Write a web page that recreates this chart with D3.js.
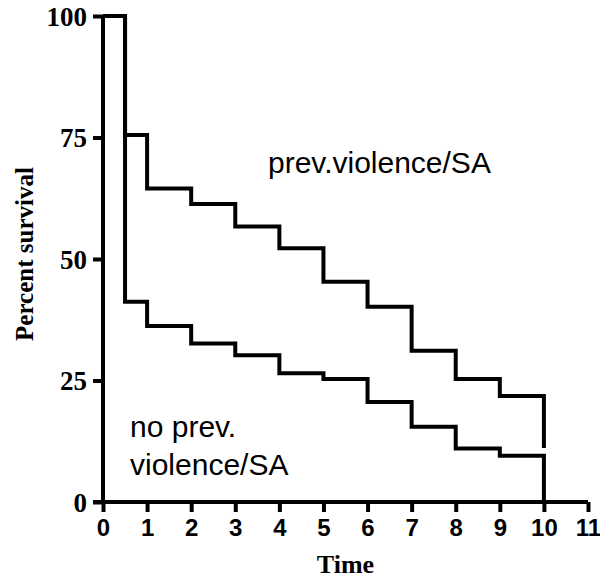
<!DOCTYPE html>
<html>
<head>
<meta charset="utf-8">
<script src="https://cdn.jsdelivr.net/npm/d3@7"></script>
<style>
  html, body { margin: 0; padding: 0; background: #fff; }
  svg { display: block; }
</style>
</head>
<body>
<script>
// Data
const times = [0, 0.5, 1, 2, 3, 4, 5, 6, 7, 8, 9, 10];
const prevViolence = [100, 75.5, 64.5, 61.3, 56.7, 52.2, 45.3, 40.2, 31.1, 25.3, 21.8, 11.1];
const noPrevViolence = [100, 41.2, 36.2, 32.6, 30.2, 26.5, 25.3, 20.6, 15.5, 11.0, 9.5, 0];
const xTicks = [0, 1, 2, 3, 4, 5, 6, 7, 8, 9, 10, 11];
const yTicks = [0, 25, 50, 75, 100];

const W = 600, H = 582;
const svg = d3.select("body").append("svg").attr("width", W).attr("height", H);

const x = d3.scaleLinear().domain([0, 11]).range([103, 588]);
const y = d3.scaleLinear().domain([0, 100]).range([502, 16]);

const line = d3.line().x(d => x(d[0])).y(d => y(d[1])).curve(d3.curveStepAfter);

function series(vals) { return times.map((t, i) => [t, vals[i]]); }

// Curves
[prevViolence, noPrevViolence].forEach(vals => {
  svg.append("path")
    .attr("d", line(series(vals)))
    .attr("fill", "none")
    .attr("stroke", "#000")
    .attr("stroke-width", 4)
    .attr("stroke-linejoin", "miter");
});

// Y axis
const yAxis = svg.append("g").attr("transform", `translate(${x(0)},0)`)
  .call(d3.axisLeft(y).tickValues(yTicks).tickSize(10).tickPadding(6).tickFormat(d3.format("d")));
yAxis.select(".domain").attr("stroke-width", 4).attr("d", `M0,${y(0)}V${y(100)}`);
yAxis.selectAll(".tick line").attr("stroke-width", 4);
yAxis.selectAll(".tick text")
  .attr("font-family", "Liberation Serif, Times New Roman, serif")
  .attr("font-weight", "bold").attr("font-size", 27).attr("fill", "#000")
  .attr("dy", "0.34em");

// X axis
const xAxis = svg.append("g").attr("transform", `translate(0,${y(0)})`)
  .call(d3.axisBottom(x).tickValues(xTicks).tickSize(10).tickPadding(7).tickFormat(d3.format("d")));
xAxis.select(".domain").attr("stroke-width", 4).attr("d", `M${x(0) - 10},0H${x(11)}`);
xAxis.selectAll(".tick line").attr("stroke-width", 4);
xAxis.selectAll(".tick text")
  .attr("font-family", "Liberation Sans, Arial, sans-serif")
  .attr("font-weight", "bold").attr("font-size", 24).attr("fill", "#000");

// Axis titles
svg.append("text")
  .attr("x", x(5.5)).attr("y", 573)
  .attr("text-anchor", "middle")
  .attr("font-family", "Liberation Serif, Times New Roman, serif")
  .attr("font-weight", "bold").attr("font-size", 26)
  .text("Time");

svg.append("text")
  .attr("transform", `translate(33,${(168 + 340) / 2}) rotate(-90)`)
  .attr("text-anchor", "middle")
  .attr("font-family", "Liberation Serif, Times New Roman, serif")
  .attr("font-weight", "bold").attr("font-size", 25)
  .text("Percent survival");

// Curve labels
const lab = { family: "Liberation Sans, Arial, sans-serif", size: 30 };
svg.append("text").attr("x", 268).attr("y", 173)
  .attr("font-family", lab.family).attr("font-size", lab.size)
  .text("prev.violence/SA");
svg.append("text").attr("x", 130).attr("y", 437)
  .attr("font-family", lab.family).attr("font-size", lab.size)
  .text("no prev.");
svg.append("text").attr("x", 130).attr("y", 475)
  .attr("font-family", lab.family).attr("font-size", lab.size)
  .text("violence/SA");
</script>
</body>
</html>
